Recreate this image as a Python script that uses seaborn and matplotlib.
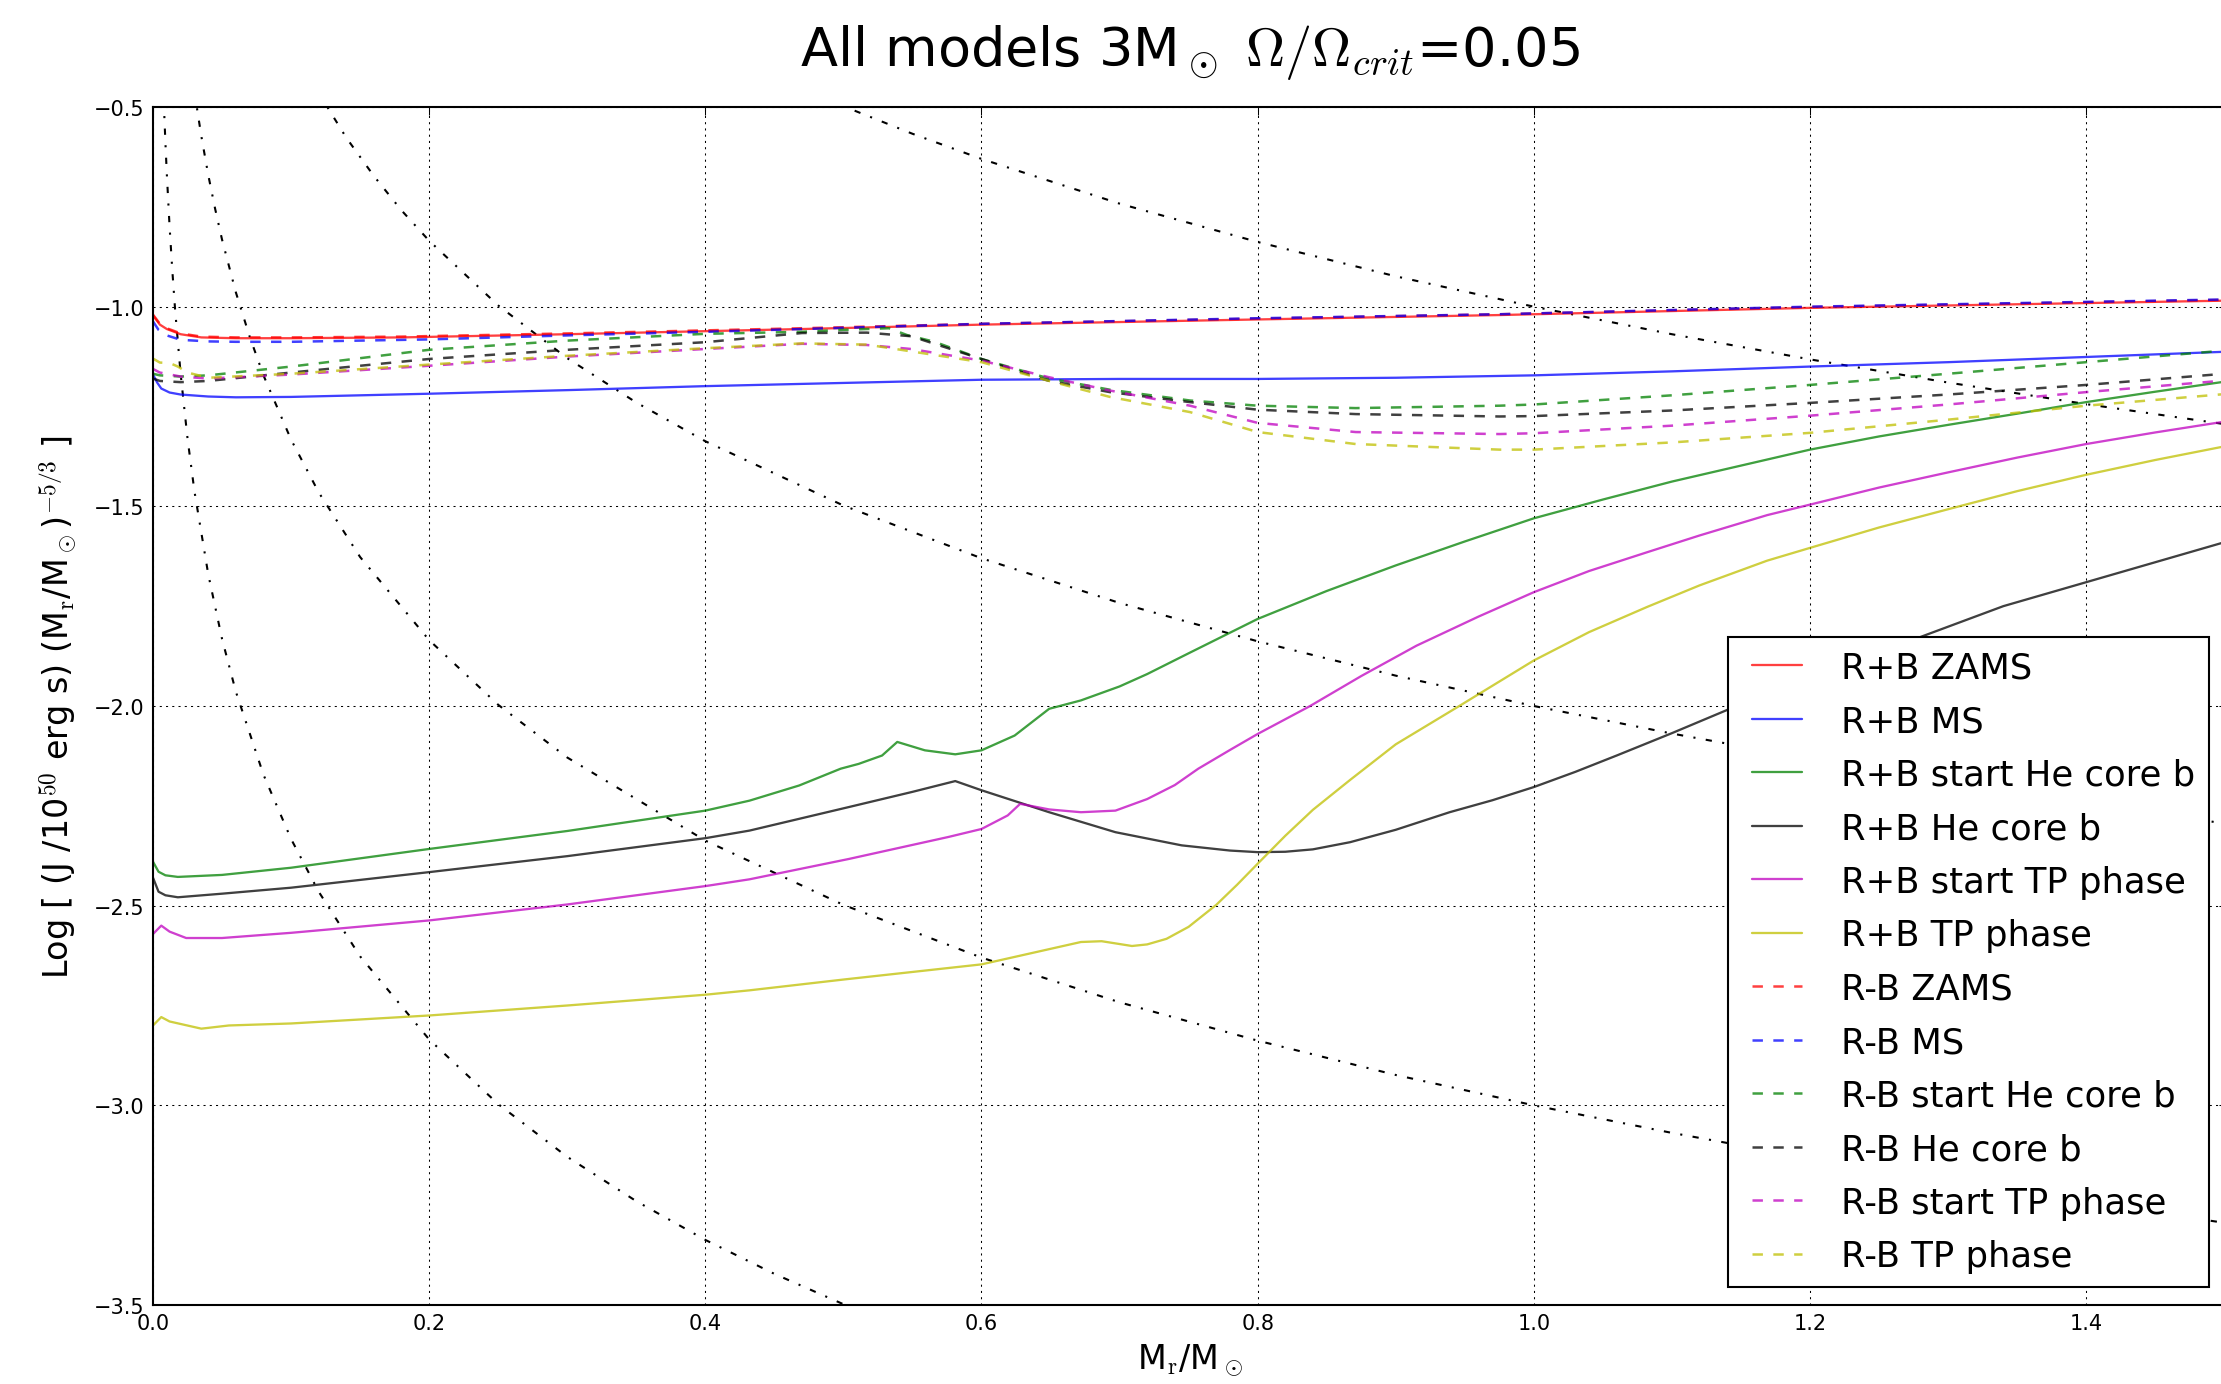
import matplotlib
matplotlib.use("Agg")
import matplotlib.pyplot as plt
import seaborn as sns

# ---- values (x = M_r/Msun, y = log j) ----

# R+B (solid)
x_rb_zams = [0, 0.005, 0.01, 0.02, 0.035, 0.06, 0.1, 0.18, 0.3, 0.47, 0.6, 0.8, 0.975, 1.2, 1.5]
y_rb_zams = [-1.022, -1.045, -1.056, -1.069, -1.077, -1.079, -1.079, -1.077, -1.069, -1.056,
             -1.045, -1.032, -1.021, -1.003, -0.985]

x_rb_ms = [0, 0.003, 0.006, 0.012, 0.02, 0.04, 0.06, 0.1, 0.2, 0.3, 0.4, 0.5, 0.6, 0.7, 0.8,
           0.9, 1.0, 1.1, 1.2, 1.3, 1.4, 1.5]
y_rb_ms = [-1.17, -1.19, -1.205, -1.215, -1.22, -1.225, -1.227, -1.226, -1.218, -1.209, -1.199,
           -1.191, -1.183, -1.181, -1.181, -1.178, -1.172, -1.162, -1.15, -1.139, -1.126, -1.113]

x_rb_she = [0, 0.004, 0.009, 0.018, 0.05, 0.1, 0.2, 0.3, 0.4, 0.432, 0.468, 0.498, 0.511, 0.528,
            0.539, 0.559, 0.581, 0.6, 0.624, 0.649, 0.672, 0.7, 0.72, 0.75, 0.8, 0.85, 0.9, 0.95,
            1.0, 1.05, 1.1, 1.15, 1.2, 1.25, 1.3, 1.35, 1.4, 1.45, 1.5]
y_rb_she = [-2.39, -2.415, -2.424, -2.428, -2.423, -2.405, -2.358, -2.313, -2.262, -2.237, -2.199,
            -2.157, -2.145, -2.124, -2.09, -2.111, -2.121, -2.111, -2.074, -2.007, -1.986, -1.951,
            -1.92, -1.868, -1.782, -1.712, -1.648, -1.588, -1.53, -1.483, -1.438, -1.398, -1.358,
            -1.325, -1.296, -1.268, -1.239, -1.213, -1.188]

x_rb_he = [0, 0.004, 0.009, 0.018, 0.05, 0.1, 0.2, 0.3, 0.4, 0.432, 0.504, 0.55, 0.581, 0.6,
           0.649, 0.697, 0.745, 0.78, 0.8, 0.82, 0.84, 0.867, 0.9, 0.939, 0.97, 1.0, 1.03, 1.06,
           1.1, 1.142, 1.284, 1.34, 1.4, 1.45, 1.5]
y_rb_he = [-2.43, -2.465, -2.474, -2.479, -2.47, -2.455, -2.416, -2.376, -2.331, -2.312, -2.253,
           -2.215, -2.188, -2.211, -2.266, -2.316, -2.349, -2.362, -2.366, -2.365, -2.359,
           -2.341, -2.31, -2.266, -2.236, -2.203, -2.165, -2.124, -2.068, -2.007, -1.822, -1.75,
           -1.69, -1.64, -1.59]

x_rb_stp = [0, 0.006, 0.012, 0.024, 0.05, 0.073, 0.1, 0.2, 0.3, 0.4, 0.432, 0.504, 0.576, 0.6,
            0.619, 0.628, 0.649, 0.672, 0.697, 0.72, 0.74, 0.757, 0.78, 0.8, 0.838, 0.875, 0.915,
            0.96, 1.0, 1.04, 1.082, 1.12, 1.169, 1.202, 1.25, 1.3, 1.35, 1.4, 1.45, 1.5]
y_rb_stp = [-2.571, -2.55, -2.565, -2.581, -2.581, -2.575, -2.568, -2.537, -2.497, -2.451,
            -2.434, -2.383, -2.328, -2.308, -2.274, -2.245, -2.259, -2.266, -2.262, -2.233,
            -2.198, -2.157, -2.11, -2.07, -2.0, -1.925, -1.849, -1.776, -1.715, -1.662, -1.615,
            -1.573, -1.522, -1.494, -1.453, -1.415, -1.378, -1.344, -1.315, -1.288]

x_rb_tp = [0, 0.006, 0.012, 0.035, 0.055, 0.1, 0.2, 0.3, 0.4, 0.432, 0.5, 0.6, 0.672, 0.687,
           0.709, 0.72, 0.734, 0.75, 0.77, 0.785, 0.8, 0.82, 0.84, 0.867, 0.9, 0.946, 1.0, 1.04,
           1.082, 1.12, 1.169, 1.202, 1.25, 1.308, 1.35, 1.4, 1.45, 1.5]
y_rb_tp = [-2.8, -2.779, -2.79, -2.808, -2.80, -2.795, -2.775, -2.75, -2.723, -2.712, -2.685,
           -2.647, -2.591, -2.589, -2.601, -2.597, -2.583, -2.553, -2.498, -2.448, -2.395,
           -2.325, -2.26, -2.185, -2.096, -2.0, -1.886, -1.815, -1.752, -1.698, -1.636, -1.602,
           -1.553, -1.5, -1.462, -1.421, -1.384, -1.35]

# R-B (dashed)
x_rmb_zams = [0, 0.005, 0.01, 0.02, 0.035, 0.06, 0.1, 0.18, 0.3, 0.47, 0.6, 0.8, 0.975, 1.2, 1.5]
y_rmb_zams = [-1.02, -1.043, -1.054, -1.067, -1.075, -1.077, -1.077, -1.075, -1.067, -1.054,
              -1.043, -1.03, -1.019, -1.001, -0.983]

x_rmb_ms = [0, 0.004, 0.01, 0.02, 0.04, 0.06, 0.1, 0.2, 0.3, 0.4, 0.47, 0.6, 0.8, 0.975, 1.2, 1.5]
y_rmb_ms = [-1.037, -1.058, -1.072, -1.083, -1.087, -1.088, -1.088, -1.082, -1.072, -1.063,
            -1.056, -1.043, -1.029, -1.019, -1.0, -0.982]

x_rmb_she = [0, 0.005, 0.02, 0.04, 0.1, 0.2, 0.3, 0.4, 0.47, 0.5, 0.533, 0.546, 0.566, 0.6,
             0.648, 0.693, 0.751, 0.8, 0.871, 0.975, 1.0, 1.1, 1.2, 1.3, 1.4, 1.5]
y_rmb_she = [-1.168, -1.172, -1.175, -1.172, -1.15, -1.108, -1.085, -1.068, -1.063, -1.058,
             -1.054, -1.071, -1.088, -1.131, -1.179, -1.208, -1.235, -1.248, -1.254, -1.248,
             -1.245, -1.222, -1.196, -1.168, -1.139, -1.11]

x_rmb_he = [0, 0.005, 0.02, 0.04, 0.1, 0.2, 0.3, 0.4, 0.47, 0.517, 0.549, 0.6, 0.648, 0.693,
            0.751, 0.8, 0.871, 0.975, 1.0, 1.1, 1.2, 1.3, 1.4, 1.5]
y_rmb_he = [-1.18, -1.186, -1.189, -1.186, -1.165, -1.131, -1.108, -1.089, -1.066, -1.065,
            -1.074, -1.131, -1.185, -1.214, -1.239, -1.258, -1.269, -1.275, -1.274, -1.26,
            -1.241, -1.22, -1.196, -1.168]

x_rmb_stp = [0, 0.005, 0.02, 0.04, 0.1, 0.2, 0.3, 0.4, 0.47, 0.517, 0.549, 0.6, 0.648, 0.693,
             0.751, 0.8, 0.871, 0.975, 1.0, 1.1, 1.2, 1.3, 1.4, 1.5]
y_rmb_stp = [-1.156, -1.165, -1.175, -1.18, -1.17, -1.148, -1.125, -1.106, -1.093, -1.096,
             -1.106, -1.135, -1.176, -1.21, -1.248, -1.291, -1.314, -1.319, -1.317, -1.298,
             -1.273, -1.245, -1.214, -1.185]

x_rmb_tp = [0, 0.005, 0.012, 0.018, 0.025, 0.04, 0.1, 0.2, 0.3, 0.4, 0.47, 0.517, 0.6, 0.648,
            0.693, 0.751, 0.8, 0.871, 0.975, 1.0, 1.1, 1.2, 1.3, 1.4, 1.5]
y_rmb_tp = [-1.13, -1.14, -1.141, -1.15, -1.165, -1.178, -1.168, -1.145, -1.123, -1.104, -1.092,
            -1.095, -1.139, -1.185, -1.226, -1.264, -1.314, -1.344, -1.358, -1.358, -1.34,
            -1.316, -1.283, -1.248, -1.219]

# black dash-dot guide curves
x_ref1 = [0.45, 0.5, 0.55, 0.6, 0.7, 0.8, 0.9, 1.0, 1.1, 1.2, 1.3, 1.4, 1.5, 1.55]
y_ref1 = [-0.422, -0.498, -0.567, -0.630, -0.742, -0.838, -0.924, -1.0, -1.069, -1.132, -1.190,
          -1.244, -1.294, -1.317]
x_ref2 = [0.12, 0.14, 0.16, 0.18, 0.2, 0.25, 0.3, 0.35, 0.4, 0.5, 0.6, 0.7, 0.8, 0.9, 1.0, 1.1,
          1.2, 1.3, 1.4, 1.5, 1.55]
y_ref2 = [-0.465, -0.577, -0.673, -0.759, -0.835, -0.997, -1.129, -1.240, -1.337, -1.498, -1.630,
          -1.742, -1.838, -1.924, -2.0, -2.069, -2.132, -2.190, -2.244, -2.294, -2.317]
x_ref3 = [0.03, 0.035, 0.04, 0.045, 0.05, 0.06, 0.07, 0.08, 0.1, 0.12, 0.15, 0.2, 0.25, 0.3, 0.4,
          0.5, 0.6, 0.7, 0.8, 0.9, 1.0, 1.1, 1.2, 1.3, 1.4, 1.5, 1.55]
y_ref3 = [-0.462, -0.573, -0.670, -0.755, -0.832, -0.964, -1.075, -1.172, -1.333, -1.465, -1.627,
          -1.835, -1.997, -2.129, -2.337, -2.498, -2.630, -2.742, -2.838, -2.924, -3.0, -3.069,
          -3.132, -3.190, -3.244, -3.294, -3.317]
x_ref4 = [0.007, 0.008, 0.009, 0.01, 0.012, 0.014, 0.016, 0.02, 0.025, 0.03, 0.04, 0.05, 0.06,
          0.08, 0.1, 0.12, 0.15, 0.2, 0.25, 0.3, 0.35, 0.4, 0.45, 0.5, 0.52]
y_ref4 = [-0.408, -0.505, -0.590, -0.667, -0.799, -0.910, -1.007, -1.168, -1.330, -1.462, -1.670,
          -1.832, -1.964, -2.172, -2.333, -2.465, -2.627, -2.835, -2.997, -3.129, -3.240, -3.337,
          -3.422, -3.498, -3.527]

labels = ["ZAMS", "MS", "start He core b", "He core b", "start TP phase", "TP phase"]
colors = ["r", "b", "g", "k", "m", "y"]

solid_series = [(x_rb_zams, y_rb_zams), (x_rb_ms, y_rb_ms), (x_rb_she, y_rb_she),
                (x_rb_he, y_rb_he), (x_rb_stp, y_rb_stp), (x_rb_tp, y_rb_tp)]
dashed_series = [(x_rmb_zams, y_rmb_zams), (x_rmb_ms, y_rmb_ms), (x_rmb_she, y_rmb_she),
                 (x_rmb_he, y_rmb_he), (x_rmb_stp, y_rmb_stp), (x_rmb_tp, y_rmb_tp)]
ref_series = [(x_ref1, y_ref1), (x_ref2, y_ref2), (x_ref3, y_ref3), (x_ref4, y_ref4)]

sns.set_style("white")
plt.rcParams["font.family"] = ["DejaVu Sans"]
plt.rcParams["mathtext.fontset"] = "cm"
plt.rcParams["lines.scale_dashes"] = False
plt.rcParams["text.color"] = "k"
plt.rcParams["axes.labelcolor"] = "k"

fig = plt.figure(figsize=(2221 / 150, 1385 / 150), dpi=150)
ax = fig.add_axes([153 / 2221, 1 - 1306 / 1385, 2074 / 2221, 1198 / 1385])

for xs, ys in ref_series:
    sns.lineplot(x=xs, y=ys, ax=ax, color="k", lw=1.0, linestyle=(0, (3, 5, 1, 5)),
                 estimator=None, sort=False)

for (xs, ys), c, lab in zip(solid_series, colors, labels):
    sns.lineplot(x=xs, y=ys, ax=ax, color=c, alpha=0.75, lw=1.1,
                 estimator=None, sort=False, label="R+B " + lab)

for (xs, ys), c, lab in zip(dashed_series, colors, labels):
    sns.lineplot(x=xs, y=ys, ax=ax, color=c, alpha=0.75, lw=1.2, linestyle=(0, (5, 5)),
                 estimator=None, sort=False, label="R-B " + lab)

ax.set_xlim(0, 1.502)
ax.set_ylim(-3.5, -0.5)
ax.set_xticks([0.0, 0.2, 0.4, 0.6, 0.8, 1.0, 1.2, 1.4])
ax.set_yticks([-3.5, -3.0, -2.5, -2.0, -1.5, -1.0, -0.5])
ax.grid(True, color="k", lw=0.5, linestyle=(0, (1, 2)))
ax.tick_params(direction="in", length=4, width=0.5, top=True, right=True,
               labelsize=10, pad=4, colors="k")
for sp in ax.spines.values():
    sp.set_color("k")
    sp.set_linewidth(1.0)

ax.set_title(r"All models 3M$_\odot$ $\Omega/\Omega_{crit}$=0.05", fontsize=26, pad=20)
ax.set_xlabel(r"M$_{\rm r}$/M$_\odot$", fontsize=16)
ax.set_ylabel(r"Log [ (J /10$^{50}$ erg s) (M$_{\rm r}$/M$_\odot$)$^{-5/3}$ ]", fontsize=16,
              labelpad=7)

leg = ax.legend(loc="lower right", fontsize=17, numpoints=2, handlelength=2,
                handletextpad=0.8, borderpad=0.4, labelspacing=0.55, borderaxespad=0.5,
                fancybox=False, framealpha=1, edgecolor="k")
leg.get_frame().set_linewidth(1.0)

fig.savefig("out.png", dpi=150)
